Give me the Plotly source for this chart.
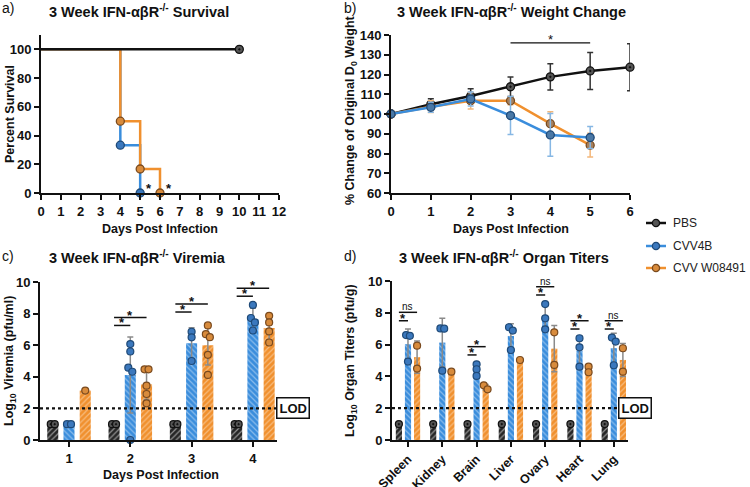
import numpy as np
import plotly.graph_objects as go

W, H = 750, 487
FONT = "Liberation Sans, Arial, Helvetica, sans-serif"

# ---------------- data ----------------
# a) survival
surv_pbs_days = [0, 10]
surv_pbs_pct = [100, 100]
surv_4b_days = [0, 4, 5]
surv_4b_pct = [100, 33.3, 0]
surv_w_days = [0, 4, 5, 6]
surv_w_pct = [100, 50, 16.7, 0]

# b) weight change
wt_days = [0, 1, 2, 3, 4, 5, 6]
wt_pbs = [100, 104.9, 109.1, 113.8, 118.8, 121.8, 123.7]
wt_pbs_sd = [0, 2.8, 3.7, 4.9, 6.6, 9.4, 11.9]
wt_4b = [100, 103.4, 107.6, 99.2, 89.4, 88.1]
wt_4b_sd = [0, 2.5, 3.5, 9.6, 10.8, 5.6]
wt_w = [100, 103.7, 106.7, 106.7, 95.1, 84.2]
wt_w_sd = [0, 3.0, 4.2, 2.0, 6.1, 6.0]
wt_sig_days = [3, 5]
wt_sig_y = 136

# c) viremia (log10 pfu/ml), individual animals
vir_days = [1, 2, 3, 4]
vir_pbs = [[1, 1], [1, 1], [1, 1], [1, 1]]
vir_4b = [[1, 1], [6.07, 5.6, 4.58, 4.32, 0], [6.85, 6.5, 5.0], [8.55, 7.72, 7.44, 6.93]]
vir_w = [[3.13], [4.47, 4.47, 3.44, 2.91, 2.32], [7.25, 6.7, 6.51, 5.39, 4.12], [7.86, 7.44, 6.87, 6.17]]
vir_sig_days = [2, 3, 4]
vir_sig_low = [7.25, 8.1, 9.1]
vir_sig_high = [7.75, 8.6, 9.6]

# d) organ titers (log10 pfu/g)
organs = ["Spleen", "Kidney", "Brain", "Liver", "Ovary", "Heart", "Lung"]
org_pbs = [[1], [1], [1], [1], [1], [1], [1]]
org_4b = [[6.6, 6.55, 4.93], [7.02, 7.0, 4.36], [4.76, 4.45, 4.03], [7.09, 6.88, 5.66],
          [8.55, 7.65, 6.96], [6.4, 5.83, 4.61], [6.44, 6.19, 4.7]]
org_w = [[5.93, 4.49], [4.3], [3.44, 3.19], [5.03], [6.77, 4.72], [4.61, 4.26], [5.77, 4.3]]
org_sig_idx = [0, 2, 4, 5, 6]
org_sig_low = [7.5, 5.35, 9.12, 6.98, 6.98]
org_sig_high = [8.03, 5.87, 9.64, 7.5, 7.5]
org_sig_low_lbl = ["*", "*", "*", "*", "*"]
org_sig_high_lbl = ["ns", "*", "ns", "*", "ns"]

LOD = 2
series_names = ["PBS", "CVV4B", "CVV W08491"]

# ---------------- style ----------------
BLACK = "#111111"
BLUE = "#3a8ddc"
ORANGE = "#f0902e"
BLUE_MK = "#3b78bd"
BLUE_MK_LINE = "#1f4a78"
OR_MK = "#d88b3c"
OR_MK_LINE = "#7a4a1e"
PBS_MK = "#555555"
GROUP_OFF = [-0.265, 0.0, 0.265]
BAR_W = 0.18


def px(x):
    return x / W


def py(y):
    return 1 - y / H


fig = go.Figure()

# ---------- a) survival ----------
for days, pct, col, mk, mkl in [
    (surv_4b_days, surv_4b_pct, BLUE, BLUE_MK, BLUE_MK_LINE),
    (surv_w_days, surv_w_pct, ORANGE, OR_MK, OR_MK_LINE),
    (surv_pbs_days, surv_pbs_pct, BLACK, PBS_MK, BLACK),
]:
    fig.add_trace(go.Scatter(x=days, y=pct, mode="lines", line=dict(color=col, width=2.5, shape="hv"),
                             xaxis="x", yaxis="y", showlegend=False, hoverinfo="skip", cliponaxis=False))
    fig.add_trace(go.Scatter(x=days[1:], y=pct[1:], mode="markers",
                             marker=dict(symbol="circle-dot" if col == BLACK else "circle", size=8, color=mk,
                                         line=dict(color=mkl, width=1.3)),
                             xaxis="x", yaxis="y", showlegend=False, hoverinfo="skip", cliponaxis=False))

# ---------- b) weight change ----------
for y, sd, col, mk, mkl, ecol in [
    (wt_pbs, wt_pbs_sd, BLACK, PBS_MK, BLACK, "#333333"),
    (wt_w, wt_w_sd, ORANGE, "#a5805e", OR_MK_LINE, "#f3b77a"),
    (wt_4b, wt_4b_sd, BLUE, "#4a78a6", BLUE_MK_LINE, "#86b7e4"),
]:
    fig.add_trace(go.Scatter(
        x=wt_days[:len(y)], y=y, mode="lines+markers",
        line=dict(color=col, width=2.5),
        marker=dict(symbol="circle-dot" if col == BLACK else "circle", size=8, color=mk,
                    line=dict(color=mkl, width=1.3)),
        error_y=dict(type="data", array=sd, color=ecol, thickness=1.5, width=3),
        xaxis="x2", yaxis="y2", showlegend=False, hoverinfo="skip", cliponaxis=False))


# ---------- helpers for bar panels ----------
def spread(vals, step, tol):
    offs = [0.0] * len(vals)
    used = [False] * len(vals)
    for i in range(len(vals)):
        if used[i]:
            continue
        cl = [j for j in range(len(vals)) if not used[j] and abs(vals[j] - vals[i]) < tol]
        n = len(cl)
        for k, j in enumerate(cl):
            offs[j] = (k - (n - 1) / 2) * step
            used[j] = True
    return offs


def bar_panel(cats, groups, xa, ya, step):
    specs = [
        ("/", "#262626", "#ffffff", PBS_MK, BLACK, "circle-dot"),
        ("\\", BLUE, "#d9eaf9", BLUE_MK, BLUE_MK_LINE, "circle"),
        ("/", ORANGE, "#fde6cc", OR_MK, OR_MK_LINE, "circle"),
    ]
    for gi, (data, spec) in enumerate(zip(groups, specs)):
        shape, bg, fg, mk, mkl, sym = spec
        means = [float(np.mean(v)) for v in data]
        sds = [float(np.std(v, ddof=1)) if len(v) > 1 else 0.0 for v in data]
        xs = [c + GROUP_OFF[gi] for c in cats]
        fig.add_trace(go.Bar(
            x=xs, y=means, width=BAR_W,
            marker=dict(color=bg, line=dict(width=0),
                        pattern=dict(shape=shape, bgcolor=bg, fgcolor=fg, size=4, solidity=0.3,
                                     fillmode="overlay")),
            error_y=dict(type="data", array=sds, color="#8a8a8a", thickness=1.5, width=3),
            xaxis=xa, yaxis=ya, showlegend=False, hoverinfo="skip"))
    for gi, (data, spec) in enumerate(zip(groups, specs)):
        shape, bg, fg, mk, mkl, sym = spec
        px_, py_ = [], []
        for c, v in zip(cats, data):
            offs = spread(v, step, 0.3)
            for val, o in zip(v, offs):
                px_.append(c + GROUP_OFF[gi] + o)
                py_.append(val)
        fig.add_trace(go.Scatter(
            x=px_, y=py_, mode="markers",
            marker=dict(symbol=sym, size=7, color=mk, line=dict(color=mkl, width=1.2)),
            xaxis=xa, yaxis=ya, showlegend=False, hoverinfo="skip", cliponaxis=False))


bar_panel(vir_days, [vir_pbs, vir_4b, vir_w], "x3", "y3", 0.065)
org_x = list(range(len(organs)))
bar_panel(org_x, [org_pbs, org_4b, org_w], "x4", "y4", 0.11)

shapes = []
annotations = []


def sig(xref, yref, x0, x1, y, label):
    shapes.append(dict(type="line", xref=xref, yref=yref, x0=x0, x1=x1, y0=y, y1=y,
                       line=dict(color=BLACK, width=1.5)))
    if label == "*":
        annotations.append(dict(xref=xref, yref=yref, x=(x0 + x1) / 2, y=y, text="*", showarrow=False,
                                yanchor="bottom", yshift=-7, font=dict(family=FONT, size=13, color=BLACK,
                                                                      weight="bold")))
    else:
        annotations.append(dict(xref=xref, yref=yref, x=(x0 + x1) / 2, y=y, text=label, showarrow=False,
                                yanchor="bottom", yshift=-2, font=dict(family=FONT, size=10, color=BLACK)))


# a) asterisks after last event
for days in [surv_4b_days, surv_w_days]:
    annotations.append(dict(xref="x", yref="y", x=days[-1] + 0.45, y=0, text="*", showarrow=False,
                            yanchor="bottom", yshift=-5,
                            font=dict(family=FONT, size=13, color=BLACK, weight="bold")))

# b) significance
shapes.append(dict(type="line", xref="x2", yref="y2", x0=wt_sig_days[0], x1=wt_sig_days[1],
                   y0=wt_sig_y, y1=wt_sig_y, line=dict(color=BLACK, width=1.3)))
annotations.append(dict(xref="x2", yref="y2", x=sum(wt_sig_days) / 2, y=wt_sig_y, text="*", showarrow=False,
                        yanchor="bottom", yshift=-6, font=dict(family=FONT, size=13, color=BLACK)))

# c) significance
for d, lo, hi in zip(vir_sig_days, vir_sig_low, vir_sig_high):
    sig("x3", "y3", d + GROUP_OFF[0], d + GROUP_OFF[1], lo, "*")
    sig("x3", "y3", d + GROUP_OFF[0], d + GROUP_OFF[2], hi, "*")

# d) significance
for i, lo, hi, ll, hl in zip(org_sig_idx, org_sig_low, org_sig_high, org_sig_low_lbl, org_sig_high_lbl):
    sig("x4", "y4", i + GROUP_OFF[0], i + GROUP_OFF[1], lo, ll)
    sig("x4", "y4", i + GROUP_OFF[0], i + GROUP_OFF[2], hi, hl)

# LOD lines and boxes
for xa, ya, xend, xbox in [("x3", "y3", 1.063, 1.14), ("x4", "y4", 1.021, 1.10)]:
    shapes.append(dict(type="line", xref=xa + " domain", yref=ya, x0=0, x1=xend, y0=LOD, y1=LOD,
                       line=dict(color=BLACK, width=2.2, dash="dot")))
    annotations.append(dict(xref=xa + " domain", yref=ya, x=xbox, y=LOD, text="<b>LOD</b>", showarrow=False,
                            font=dict(family=FONT, size=13, color=BLACK), bordercolor=BLACK, borderwidth=1.5,
                            borderpad=2, bgcolor="white"))

# manual legend (right of panel b)
for name, yy, col, mk, mkl in [
    (series_names[0], 223, BLACK, PBS_MK, BLACK),
    (series_names[1], 246, BLUE, BLUE_MK, BLUE_MK_LINE),
    (series_names[2], 268, ORANGE, OR_MK, OR_MK_LINE),
]:
    shapes.append(dict(type="line", xref="paper", yref="paper", x0=px(646), x1=px(666), y0=py(yy), y1=py(yy),
                       line=dict(color=col, width=2.5)))
    r = 3.6
    shapes.append(dict(type="circle", xref="paper", yref="paper", x0=px(656 - r), x1=px(656 + r),
                       y0=py(yy + r), y1=py(yy - r), fillcolor=mk, line=dict(color=mkl, width=1.3)))
    annotations.append(dict(xref="paper", yref="paper", x=px(671), y=py(yy), xanchor="left", yanchor="middle",
                            text=name, showarrow=False, font=dict(family=FONT, size=12, color="#222222")))

# titles
TF = dict(family=FONT, size=14.5, color=BLACK, weight="bold")
for txt, x, y in [
    ("3 Week IFN-αβR<sup>-/-</sup> Survival", 47, 11),
    ("3 Week IFN-αβR<sup>-/-</sup> Weight Change", 395, 11),
    ("3 Week IFN-αβR<sup>-/-</sup> Viremia", 47, 257),
    ("3 Week IFN-αβR<sup>-/-</sup> Organ Titers", 397, 257),
]:
    annotations.append(dict(xref="paper", yref="paper", x=px(x), y=py(y), xanchor="left", yanchor="middle",
                            text=txt, showarrow=False, font=TF))

# panel letters
LF = dict(family=FONT, size=14, color=BLACK)
for txt, x, y in [("a)", 0, 8), ("b)", 342, 8), ("c)", 0, 256), ("d)", 342, 256)]:
    annotations.append(dict(xref="paper", yref="paper", x=px(x), y=py(y), xanchor="left", yanchor="middle",
                            text=txt, showarrow=False, font=LF))

# axis titles
AF = dict(family=FONT, size=12.5, color=BLACK, weight="bold")
for txt, x, y in [("Days Post Infection", 160, 229), ("Days Post Infection", 511, 229),
                  ("Days Post Infection", 161, 475)]:
    annotations.append(dict(xref="paper", yref="paper", x=px(x), y=py(y), xanchor="center", yanchor="middle",
                            text=txt, showarrow=False, font=AF))
for txt, x, y in [("Percent Survival", 10, 114), ("% Change of Original D<sub>0</sub> Weight", 351, 110),
                  ("Log<sub>10</sub> Viremia (pfu/ml)", 10, 361),
                  ("Log<sub>10</sub> Organ Titers (pfu/g)", 351, 361)]:
    annotations.append(dict(xref="paper", yref="paper", x=px(x), y=py(y), xanchor="center", yanchor="middle",
                            text=txt, textangle=-90, showarrow=False, font=AF))

TKF = dict(family=FONT, size=13, color=BLACK, weight="bold")
AX = dict(showline=True, linecolor=BLACK, linewidth=2, ticks="outside", ticklen=5, tickwidth=2,
          tickcolor=BLACK, showgrid=False, zeroline=False, tickfont=TKF, fixedrange=True, automargin=False)

fig.update_layout(
    width=W, height=H, margin=dict(l=0, r=0, t=0, b=0, autoexpand=False),
    paper_bgcolor="white", plot_bgcolor="white",
    font=dict(family=FONT, color=BLACK),
    barmode="overlay", showlegend=False,
    xaxis=dict(AX, domain=[px(41), px(279)], range=[0, 12], dtick=1, anchor="y"),
    yaxis=dict(AX, domain=[py(193), py(35)], range=[0, 110], tickvals=[0, 20, 40, 60, 80, 100], anchor="x"),
    xaxis2=dict(AX, domain=[px(391), px(630)], range=[0, 6], dtick=1, anchor="y2"),
    yaxis2=dict(AX, domain=[py(193), py(35)], range=[60, 140], dtick=10, anchor="x2"),
    xaxis3=dict(AX, domain=[px(40), px(277)], range=[0.527, 4.393], tickvals=vir_days, anchor="y3"),
    yaxis3=dict(AX, domain=[py(440), py(282)], range=[0, 10], dtick=2, anchor="x3"),
    xaxis4=dict(AX, domain=[px(392), px(628)], range=[-0.466, 6.414], tickvals=org_x, ticktext=organs,
                tickangle=-45, anchor="y4", tickfont=dict(family=FONT, size=12.5, color=BLACK, weight="bold")),
    yaxis4=dict(AX, domain=[py(440), py(281)], range=[0, 10], dtick=2, anchor="x4"),
    shapes=shapes, annotations=annotations,
)

fig.write_html("out.html", config={"displayModeBar": False},
               post_script="document.body.style.margin='0';document.body.style.overflow='hidden';")
